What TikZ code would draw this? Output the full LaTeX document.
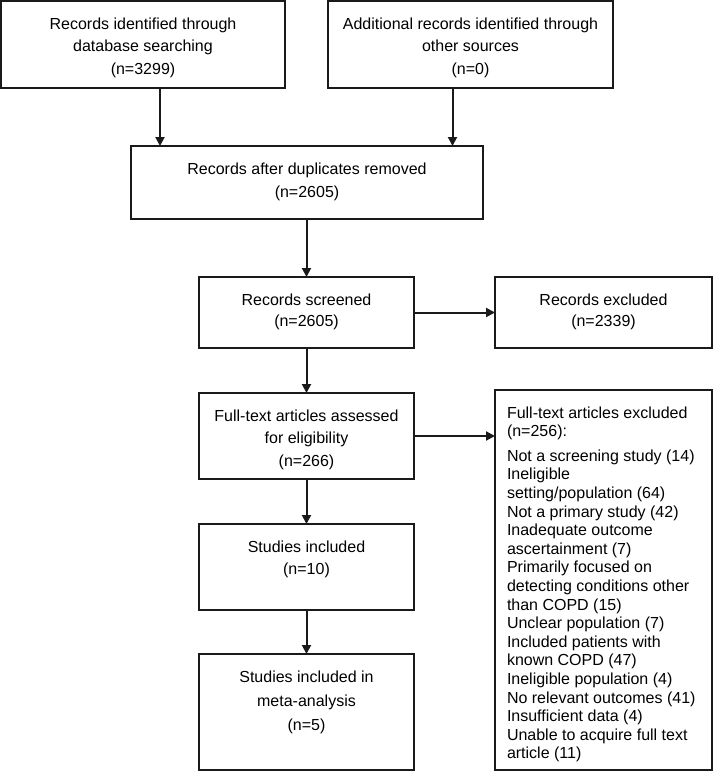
\documentclass[tikz,border=0pt]{standalone}
\usepackage{fontspec}
\setmainfont{Liberation Sans}
\usetikzlibrary{arrows.meta,calc}
\newcommand{\ctext}[4]{\begin{minipage}[t][#2][t]{#1}\centering\fontsize{16pt}{#3}\selectfont\rule{0pt}{28pt}#4\end{minipage}}
\newcommand{\ltext}[3]{\begin{minipage}[t][#2][t]{#1}\raggedright\leftskip=12pt\fontsize{16pt}{18.6pt}\selectfont\rule{0pt}{28pt}#3\end{minipage}}
\definecolor{ink}{HTML}{1A1A1A}
\tikzset{
  flowbox/.style={draw=ink, line width=1.6pt, inner sep=0pt, outer sep=0pt, anchor=north west},
  arr/.style={draw=ink, line width=2pt, -{Triangle[length=9pt,width=9pt]}}
}
\begin{document}
\begin{tikzpicture}[x=1pt,y=-1pt]
\useasboundingbox (0,0) rectangle (714,772);
\fill[white] (0,0) rectangle (714,772);
\node[flowbox] (b1) at (1,1) {\ctext{284pt}{87pt}{22.5pt}{Records identified through\\database searching\\(n=3299)}};
\node[flowbox] (b2) at (328,1) {\ctext{285pt}{87pt}{22.5pt}{Additional records identified through\\other sources\\(n=0)}};
\node[flowbox] (b3) at (131,146) {\ctext{352pt}{73pt}{23.5pt}{Records after duplicates removed\\(n=2605)}};
\node[flowbox] (b4) at (199,277) {\ctext{215pt}{71pt}{21.5pt}{Records screened\\(n=2605)}};
\node[flowbox] (b5) at (495,277) {\ctext{217pt}{71pt}{21.5pt}{Records excluded\\(n=2339)}};
\node[flowbox] (b6) at (199,393) {\ctext{215pt}{86pt}{22.5pt}{Full-text articles assessed\\for eligibility\\(n=266)}};
\node[flowbox] (b7) at (495,390) {\ltext{217pt}{380pt}{Full-text articles excluded\\(n=256):\\[6pt]Not a screening study (14)\\Ineligible\\setting/population (64)\\Not a primary study (42)\\Inadequate outcome\\ascertainment (7)\\Primarily focused on\\detecting conditions other\\than COPD (15)\\Unclear population (7)\\Included patients with\\known COPD (47)\\Ineligible population (4)\\No relevant outcomes (41)\\Insufficient data (4)\\Unable to acquire full text\\article (11)}};
\node[flowbox] (b8) at (199,524) {\ctext{215pt}{86pt}{22.5pt}{Studies included\\(n=10)}};
\node[flowbox] (b9) at (199,654) {\ctext{215pt}{116pt}{24pt}{Studies included in\\meta-analysis\\(n=5)}};
\draw[arr] ([xshift=17pt]b1.south) -- ([xshift=17pt]b1.south |- b3.north);
\draw[arr] ([xshift=-18pt]b2.south) -- ([xshift=-18pt]b2.south |- b3.north);
\draw[arr] (b3.south -| b4.north) -- (b4.north);
\draw[arr] (b4.east) -- (b5.west);
\draw[arr] (b4.south) -- (b6.north);
\draw[arr] (b6.east) -- (b6.east -| b7.west);
\draw[arr] (b6.south) -- (b8.north);
\draw[arr] (b8.south) -- (b9.north);
\end{tikzpicture}
\end{document}
